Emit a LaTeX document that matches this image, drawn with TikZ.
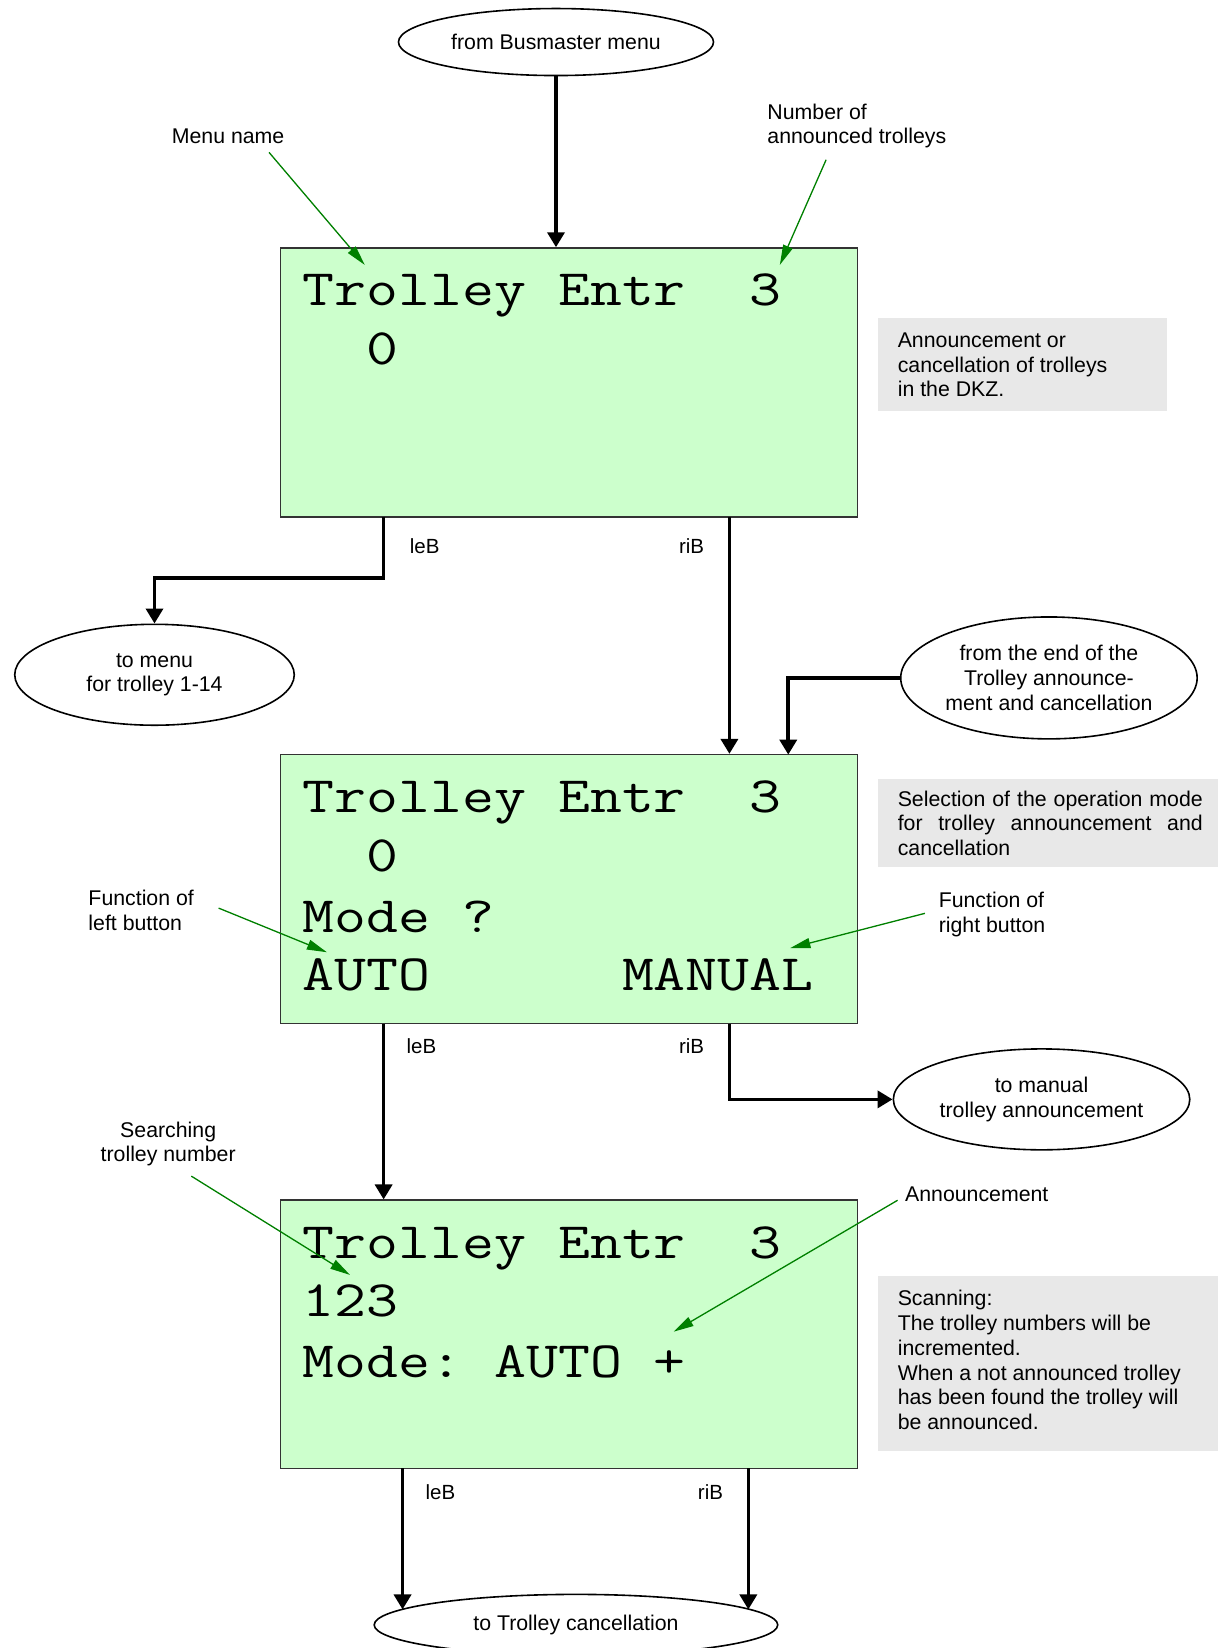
\documentclass[tikz,border=0pt]{standalone}
\usepackage{fontspec}
\setmainfont{Liberation Sans}
\usepackage{graphicx}
\usetikzlibrary{arrows.meta,shapes.geometric}
\definecolor{lcdgreen}{HTML}{CCFFCC}
\definecolor{notegray}{HTML}{E8E8E8}
\definecolor{annogreen}{HTML}{008000}
\newcommand\lcdtext[1]{\scalebox{1.215}[1]{\fontsize{51}{60}\selectfont\ttfamily\frenchspacing #1}}
\begin{document}
\begin{tikzpicture}[x=1.0509pt,y=-1.0509pt,
  every node/.style={font=\fontsize{21.3}{24.7}\selectfont, inner sep=0pt},
  screen/.style={draw=black!80, line width=1.6pt, fill=lcdgreen, minimum width=577pt, minimum height=269pt},
  lcd/.style={anchor=base west},
  oval/.style={ellipse, draw, line width=1.6pt, align=center},
  note/.style={fill=notegray, anchor=north west},
  notetext/.style={anchor=base west, align=left},
  conn/.style={line width=3.6pt, -{Triangle[length=15pt,width=17pt]}},
  anno/.style={draw=annogreen, line width=1.3pt, -{Triangle[length=20pt,width=10pt]}, fill=annogreen},
  btn/.style={font=\fontsize{20.5}{24}\selectfont}
]
\useasboundingbox (0,0) rectangle (1159,1568);

% ellipses
\node[oval, minimum width=315pt, minimum height=67pt] (e0) at (529,40) {from Busmaster menu};
\node[oval, minimum width=279.5pt, minimum height=100.9pt] (e1) at (147,642) {to menu\\for trolley 1-14};
\node[oval, minimum width=296.4pt, minimum height=121.9pt] (e2) at (998,645) {from the end of the\\Trolley announce-\\ment and cancellation};
\node[oval, minimum width=296.4pt, minimum height=100.9pt] (e3) at (991,1046) {to manual\\trolley announcement};
\node[oval, minimum width=403.5pt, minimum height=61pt] (e4) at (548,1546) {to Trolley cancellation};

% screens
\node[screen] (b1) at (541.5,364) {};
\node[lcd] (l11) at (288,291) {\lcdtext{Trolley Entr\ \ 3}};
\node[lcd] (l12) at (288,347) {\lcdtext{\ \ 0}};

\node[screen] (b2) at (541.5,846) {};
\node[lcd] (l21) at (288,773) {\lcdtext{Trolley Entr\ \ 3}};
\node[lcd] (l22) at (288,829.5) {\lcdtext{\ \ 0}};
\node[lcd] (l23) at (288,887) {\lcdtext{Mode ?}};
\node[lcd] (l24) at (288,942.5) {\lcdtext{AUTO\ \ \ \ \ \ MANUAL}};

\node[screen, minimum height=268pt] (b3) at (541.5,1269.5) {};
\node[lcd] (l31) at (288,1197) {\lcdtext{Trolley Entr\ \ 3}};
\node[lcd] (l32) at (288,1253) {\lcdtext{123}};
\node[lcd] (l33) at (288,1311) {\lcdtext{Mode: AUTO +}};

% notes (base anchor = baseline of last line)
\node[note, minimum width=289pt, minimum height=93.5pt] (g1) at (835,302) {};
\node[notetext] (n1) at (854,377.5) {Announcement or\\cancellation of trolleys\\in the DKZ.};
\node[note, minimum width=340.5pt, minimum height=88.3pt] (g2) at (835,741) {};
\node[notetext] (n2) at (854,814) {\makebox[305pt][s]{Selection of the operation mode}\\\makebox[305pt][s]{for trolley announcement and}\\cancellation};
\node[note, minimum width=340.5pt, minimum height=174.4pt] (g3) at (835,1214) {};
\node[notetext] (n3) at (854,1360) {Scanning:\\The trolley numbers will be\\incremented.\\When a not announced trolley\\has been found the trolley will\\be announced.};

% button labels
\node[btn] (lb1) at (404,520) {leB};
\node[btn] (rb1) at (658,520) {riB};
\node[btn] (lb2) at (401,995) {leB};
\node[btn] (rb2) at (658,995) {riB};
\node[btn] (lb3) at (419,1420) {leB};
\node[btn] (rb3) at (676,1420) {riB};

% annotation labels
\node (mn) at (217,130) {Menu name};
\node[align=left, anchor=west] (na) at (730,120) {Number of\\announced trolleys};
\node[align=left, anchor=west] (fl) at (84,866) {Function of\\left button};
\node[align=left, anchor=west] (fr) at (893,870) {Function of\\right button};
\node[align=center] (st) at (160,1088.5) {Searching\\trolley number};
\node[anchor=west] (an) at (861,1136) {Announcement};

% connectors
\draw[conn] (e0.south) -- (e0.south |- b1.north);
\coordinate (b1l) at (365,492);
\coordinate (b1r) at (694,492);
\draw[conn] (b1l) -- ++(0,58) -| (e1.north);
\draw[conn] (b1r) -- (b1r |- b2.north);
\coordinate (b2in) at (750,718);
\draw[conn] (e2.west) -| (b2in);
\coordinate (b2l) at (365,974);
\coordinate (b2r) at (694,974);
\draw[conn] (b2l) -- (b2l |- b3.north);
\draw[conn] (b2r) |- (e3.west);
\coordinate (b3l) at (383,1397);
\coordinate (b3r) at (712,1397);
\draw[conn] (b3l) -- (b3l |- e4.175);
\draw[conn] (b3r) -- (b3r |- e4.5);

% annotation arrows
\coordinate (mn-a) at (256,145);  \coordinate (mn-b) at (347,252);
\coordinate (na-a) at (786,152);  \coordinate (na-b) at (742,252);
\coordinate (fl-a) at (208,864);  \coordinate (fl-b) at (311,906);
\coordinate (fr-a) at (880,869);  \coordinate (fr-b) at (752,902);
\coordinate (st-a) at (182,1119); \coordinate (st-b) at (333,1213);
\coordinate (an-a) at (854,1142); \coordinate (an-b) at (641,1267);
\draw[anno] (mn-a) -- (mn-b);
\draw[anno] (na-a) -- (na-b);
\draw[anno] (fl-a) -- (fl-b);
\draw[anno] (fr-a) -- (fr-b);
\draw[anno] (st-a) -- (st-b);
\draw[anno] (an-a) -- (an-b);
\end{tikzpicture}
\end{document}
